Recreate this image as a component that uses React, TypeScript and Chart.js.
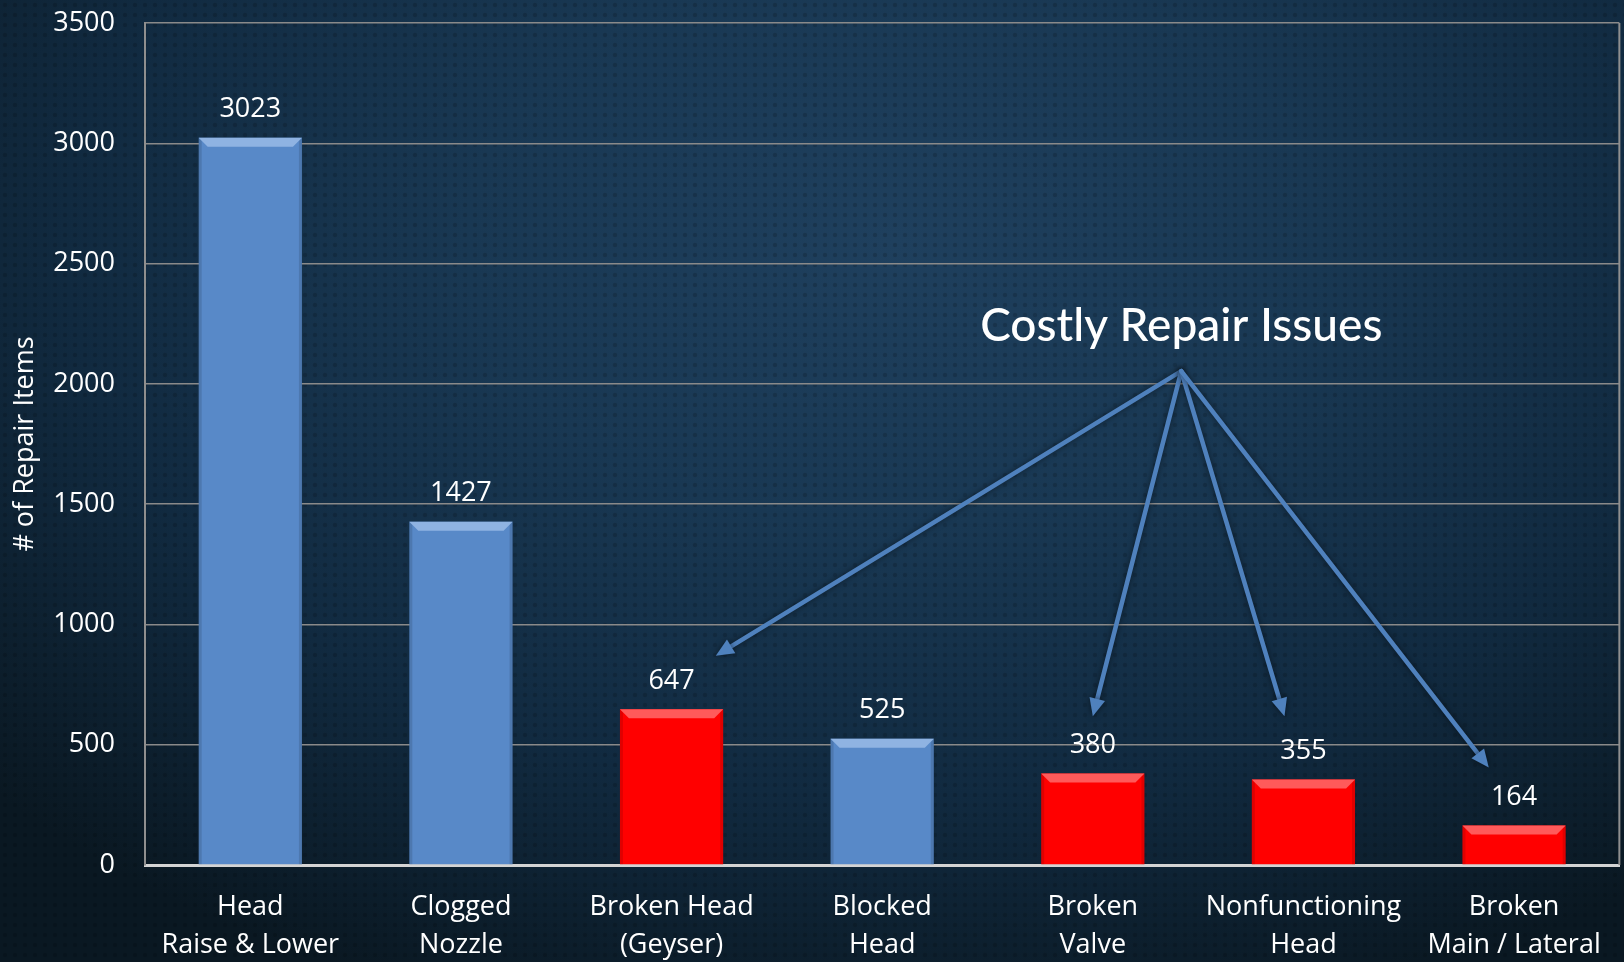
import React, { useEffect, useRef } from "react";
import { Chart, registerables } from "chart.js";

Chart.register(...registerables);

// ---------- data ----------
const categories: string[][] = [
  ["Head", "Raise & Lower"],
  ["Clogged", "Nozzle"],
  ["Broken Head", "(Geyser)"],
  ["Blocked", "Head"],
  ["Broken", "Valve"],
  ["Nonfunctioning", "Head"],
  ["Broken", "Main / Lateral"],
];
const repairCounts = [3023, 1427, 647, 525, 380, 355, 164];
const costlyFlags = [false, false, true, false, true, true, true];
const yMin = 0;
const yMax = 3500;
const yStep = 500;
const yTitle = "# of Repair Items";

// callout annotation (in data units: category index, value)
const calloutText = "Costly Repair Issues";
const calloutAnchor = { x: 4.42, y: 2240 };
const arrowOrigin = { x: 4.42, y: 2053 };
const arrowTargets = [
  { x: 2.21, y: 870 },
  { x: 4.0, y: 618 },
  { x: 4.91, y: 618 },
  { x: 5.88, y: 405 },
];

// ---------- styles ----------
const BLUE = "#5889c8";
const BLUE_BEVEL = "#8fb3e2";
const RED = "#ff0000";
const RED_BEVEL = "#ff5a5a";
const ARROW = "#4f81bd";
const FONT = "'Open Sans', 'Liberation Sans', sans-serif";

const decorPlugin = {
  id: "decor",
  afterDatasetsDraw(chart: any) {
    const ctx = chart.ctx as CanvasRenderingContext2D;
    const meta = chart.getDatasetMeta(0);
    const area = chart.chartArea;
    ctx.save();
    // right border of plot area
    ctx.strokeStyle = "#8f8f8f";
    ctx.lineWidth = 2;
    ctx.beginPath();
    ctx.moveTo(area.right, area.top);
    ctx.lineTo(area.right, area.bottom);
    ctx.stroke();

    meta.data.forEach((bar: any, i: number) => {
      const p = bar.getProps(["x", "y", "width", "base"], true);
      const left = p.x - p.width / 2;
      const right = p.x + p.width / 2;
      const b = 9;
      // side shading
      ctx.fillStyle = "rgba(0,0,0,0.12)";
      ctx.beginPath();
      ctx.moveTo(left, p.y);
      ctx.lineTo(left + 3, p.y + 3);
      ctx.lineTo(left + 3, p.base);
      ctx.lineTo(left, p.base);
      ctx.closePath();
      ctx.fill();
      ctx.beginPath();
      ctx.moveTo(right, p.y);
      ctx.lineTo(right - 3, p.y + 3);
      ctx.lineTo(right - 3, p.base);
      ctx.lineTo(right, p.base);
      ctx.closePath();
      ctx.fill();
      // top bevel
      ctx.fillStyle = costlyFlags[i] ? RED_BEVEL : BLUE_BEVEL;
      ctx.beginPath();
      ctx.moveTo(left, p.y);
      ctx.lineTo(right, p.y);
      ctx.lineTo(right - b, p.y + b);
      ctx.lineTo(left + b, p.y + b);
      ctx.closePath();
      ctx.fill();

      // value label
      ctx.fillStyle = "#ffffff";
      ctx.font = `27px ${FONT}`;
      ctx.textAlign = "center";
      ctx.textBaseline = "middle";
      ctx.fillText(String(repairCounts[i]), p.x, p.y - 28);
    });

    // callout arrows
    const xs = chart.scales.x;
    const ys = chart.scales.y;
    const ox = xs.getPixelForValue(arrowOrigin.x);
    const oy = ys.getPixelForValue(arrowOrigin.y);
    ctx.strokeStyle = ARROW;
    ctx.fillStyle = ARROW;
    ctx.lineWidth = 4.5;
    ctx.lineCap = "round";
    ctx.shadowColor = "rgba(0,0,0,0.5)";
    ctx.shadowBlur = 6;
    arrowTargets.forEach((t) => {
      const tx = xs.getPixelForValue(t.x);
      const ty = ys.getPixelForValue(t.y);
      const ang = Math.atan2(ty - oy, tx - ox);
      const hl = 18;
      const hw = 8;
      const bx = tx - hl * Math.cos(ang);
      const by = ty - hl * Math.sin(ang);
      ctx.beginPath();
      ctx.moveTo(ox, oy);
      ctx.lineTo(bx, by);
      ctx.stroke();
      ctx.beginPath();
      ctx.moveTo(tx, ty);
      ctx.lineTo(bx + hw * Math.sin(ang), by - hw * Math.cos(ang));
      ctx.lineTo(bx - hw * Math.sin(ang), by + hw * Math.cos(ang));
      ctx.closePath();
      ctx.fill();
    });
    ctx.shadowBlur = 0;
    ctx.shadowColor = "transparent";

    // callout text
    ctx.fillStyle = "#ffffff";
    ctx.font = `500 46px Lato, ${FONT}`;
    ctx.textAlign = "center";
    ctx.textBaseline = "middle";
    ctx.fillText(
      calloutText,
      xs.getPixelForValue(calloutAnchor.x),
      ys.getPixelForValue(calloutAnchor.y)
    );
    ctx.restore();
  },
};

export default function App() {
  const canvasRef = useRef<HTMLCanvasElement | null>(null);

  useEffect(() => {
    document.body.style.margin = "0";
    const canvas = canvasRef.current;
    if (!canvas) return;
    const chart = new Chart(canvas, {
      type: "bar",
      data: {
        labels: categories,
        datasets: [
          {
            data: repairCounts,
            backgroundColor: costlyFlags.map((c) => (c ? RED : BLUE)),
            borderWidth: 0,
            barPercentage: 0.49,
            categoryPercentage: 1,
          },
        ],
      },
      options: {
        responsive: false,
        animation: false,
        layout: { padding: { top: 0, right: 4, left: 0, bottom: 0 } },
        plugins: {
          legend: { display: false },
          tooltip: { enabled: false },
        },
        scales: {
          x: {
            offset: true,
            grid: { display: false, drawTicks: false },
            border: { display: true, color: "#d4d4d4", width: 3 },
            ticks: {
              color: "#ffffff",
              font: { family: FONT, size: 27, lineHeight: 1.42 },
              padding: 23,
              maxRotation: 0,
              autoSkip: false,
            },
            afterFit(scale: any) {
              scale.height = 97;
            },
          },
          y: {
            min: yMin,
            max: yMax,
            grid: { color: "#8a8a8a", lineWidth: 1.5, drawTicks: false },
            border: { display: true, color: "#8f8f8f", width: 2 },
            ticks: {
              stepSize: yStep,
              color: "#ffffff",
              font: { family: FONT, size: 27 },
              padding: 30,
              callback: (v: any) => String(v),
            },
            title: {
              display: true,
              text: yTitle,
              color: "#ffffff",
              font: { family: FONT, size: 27 },
              padding: { top: 9, bottom: 0 },
            },
            afterFit(scale: any) {
              scale.width = 145;
              scale.paddingTop = 23;
              scale.paddingBottom = 0;
            },
          },
        },
      },
      plugins: [decorPlugin],
    });
    return () => chart.destroy();
  }, []);

  return (
    <div
      style={{
        position: "absolute",
        left: 0,
        top: 0,
        width: 1624,
        height: 962,
        overflow: "hidden",
        background:
          "radial-gradient(circle at 50% 50%, rgba(0,0,0,0.16) 1.8px, transparent 2.6px) 0 0 / 10px 10px, radial-gradient(ellipse 75% 85% at 55% 25%, #1f405e 0%, #193853 35%, #112a40 68%, #0a1822 100%)",
      }}
    >
      <canvas ref={canvasRef} width={1624} height={962} style={{ display: "block" }} />
    </div>
  );
}
